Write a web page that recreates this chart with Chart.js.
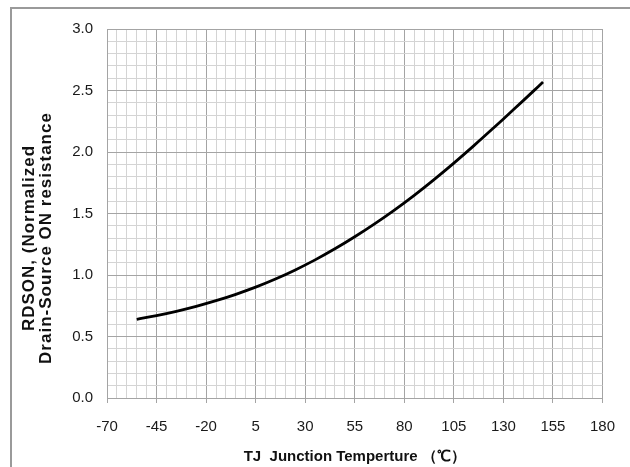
<!DOCTYPE html>
<html>
<head>
<meta charset="utf-8">
<script src="https://cdn.jsdelivr.net/npm/chart.js@4.4.1/dist/chart.umd.min.js"></script>
<style>
    html, body { margin: 0; padding: 0; background: #fff; }
    #wrap { position: relative; width: 630px; height: 467px; overflow: hidden; }
    #frame { position: absolute; left: 10px; top: 7px; width: 700px; height: 500px;
             border-left: 2px solid #9a9a9a; border-top: 2px solid #9a9a9a; }
    canvas { position: absolute; left: 0; top: 0; }
</style>
</head>
<body>
<div id="wrap">
    <div id="frame"></div>
    <canvas id="grafico" width="630" height="467"></canvas>
</div>
<script>
// Temperatura de junção (°C) e RDSON normalizado
const temperaturas = [-55, -45, -35, -25, -15, -5, 5, 15, 25, 35, 45, 55, 65, 75, 85, 95, 105, 115, 125, 135, 145, 150];
const rdsonNorm = [0.640, 0.670, 0.705, 0.745, 0.791, 0.843, 0.901, 0.967, 1.041, 1.123, 1.213, 1.311, 1.416, 1.528, 1.648, 1.776, 1.910, 2.050, 2.195, 2.343, 2.493, 2.569];

const tituloX = 'TJ  Junction Temperture （℃）';
const tituloY = ['RDSON, (Normalized', 'Drain-Source ON resistance'];

const corMaior = '#a4a4a4';
const corMenor = '#d4d4d4';
const fonte = '"Liberation Sans", Arial, sans-serif';

const ehMaiorX = v => ((v + 70) % 25) === 0;
const ehMaiorY = v => Math.round(v * 10) % 5 === 0;

// titulo do eixo Y desenhado a mao (fica um pouco abaixo do centro no original)
const tituloYPlugin = {
    id: 'tituloY',
    afterDraw(chart) {
        const ctx = chart.ctx;
        ctx.save();
        ctx.font = 'bold 17px ' + fonte;
        ctx.fillStyle = '#111';
        ctx.textAlign = 'center';
        ctx.textBaseline = 'middle';
        if ('letterSpacing' in ctx) ctx.letterSpacing = '1px';
        ctx.translate(29, 238);
        ctx.rotate(-Math.PI / 2);
        ctx.fillText(tituloY[0], 0, 0);
        ctx.fillText(tituloY[1], 0, 17);
        ctx.restore();
    }
};

new Chart(document.getElementById('grafico').getContext('2d'), {
    type: 'scatter',
    data: {
        datasets: [{
            data: temperaturas.map((t, i) => ({ x: t, y: rdsonNorm[i] })),
            showLine: true,
            borderColor: '#000',
            borderWidth: 2.8,
            pointRadius: 0,
            tension: 0.4,
            fill: false
        }]
    },
    options: {
        responsive: false,
        animation: false,
        layout: { padding: { top: 29, right: 27, left: 0, bottom: 0 } },
        plugins: {
            legend: { display: false },
            tooltip: { enabled: false }
        },
        scales: {
            x: {
                type: 'linear',
                min: -70,
                max: 180,
                afterFit: s => { s.height = 69; },
                ticks: {
                    stepSize: 5,
                    autoSkip: false,
                    maxRotation: 0,
                    padding: 15,
                    color: '#1a1a1a',
                    font: { family: fonte, size: 15 },
                    callback: v => ehMaiorX(v) ? String(v) : ''
                },
                grid: {
                    color: c => ehMaiorX(c.tick.value) ? corMaior : corMenor,
                    tickColor: c => ehMaiorX(c.tick.value) ? corMaior : 'rgba(0,0,0,0)',
                    tickLength: 5,
                    lineWidth: 1
                },
                border: { color: corMaior },
                title: {
                    display: true,
                    text: tituloX,
                    color: '#111',
                    font: { family: fonte, size: 15, weight: 'bold' },
                    padding: { top: 0, bottom: 1 }
                }
            },
            y: {
                min: 0,
                max: 3,
                afterFit: s => { s.width = 107; },
                ticks: {
                    stepSize: 0.1,
                    autoSkip: false,
                    padding: 14,
                    color: '#1a1a1a',
                    font: { family: fonte, size: 15 },
                    callback: v => ehMaiorY(v) ? v.toFixed(1) : ''
                },
                grid: {
                    color: c => ehMaiorY(c.tick.value) ? corMaior : corMenor,
                    drawTicks: false,
                    lineWidth: 1
                },
                border: { color: corMaior }
            }
        }
    },
    plugins: [tituloYPlugin]
});
</script>
</body>
</html>
